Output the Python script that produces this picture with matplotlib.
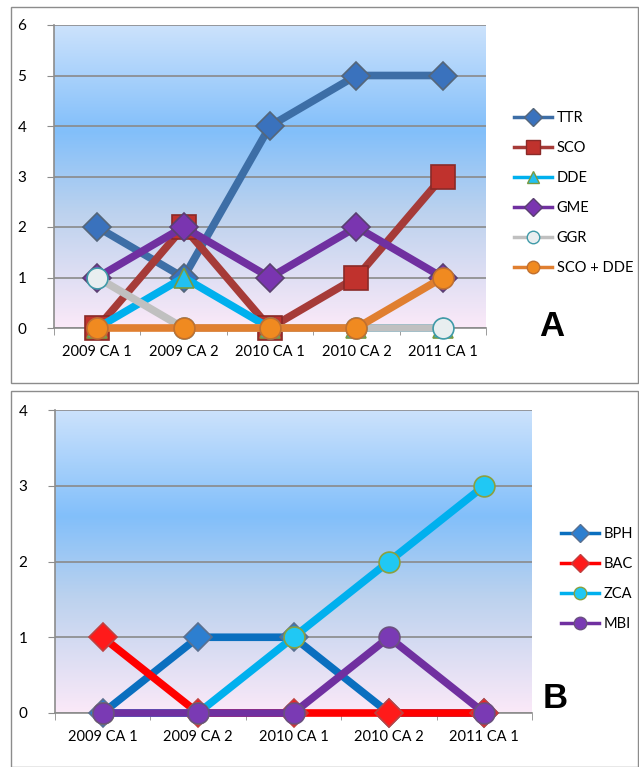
import numpy as np
import matplotlib
matplotlib.use("Agg")
import matplotlib.pyplot as plt
from matplotlib.colors import LinearSegmentedColormap
from matplotlib.lines import Line2D
from matplotlib.patches import Rectangle

plt.rcParams['font.family'] = ['Lato', 'DejaVu Sans']

categories = ["2009 CA 1", "2009 CA 2", "2010 CA 1", "2010 CA 2", "2011 CA 1"]

# panel A series
a_names = ["TTR", "SCO", "DDE", "GME", "GGR", "SCO + DDE"]
ttr = [2, 1, 4, 5, 5]
sco = [0, 2, 0, 1, 3]
dde = [0, 1, 0, 0, 0]
gme = [1, 2, 1, 2, 1]
ggr = [1, 0, 0, 0, 0]
sco_dde = [0, 0, 0, 0, 1]

# panel B series
b_names = ["BPH", "BAC", "ZCA", "MBI"]
bph = [0, 1, 1, 0, 0]
bac = [1, 0, 0, 0, 0]
zca = [0, 0, 1, 2, 3]
mbi = [0, 0, 0, 1, 0]

W, H = 639, 767
fig = plt.figure(figsize=(W / 100, H / 100), dpi=100)

# grey frames around each chart
fig.patches.append(Rectangle((11 / W, 1 - 383 / H), 627 / W, 376 / H, transform=fig.transFigure,
                             fill=False, edgecolor="#8c8c8c", lw=1.0))
fig.patches.append(Rectangle((11 / W, 1 - 767 / H), 627 / W, 376 / H, transform=fig.transFigure,
                             fill=False, edgecolor="#8c8c8c", lw=1.0))

bg = LinearSegmentedColormap.from_list("bg", [
    (0.0, "#cce2fc"), (0.35, "#82bffa"), (0.62, "#bcd2ee"), (1.0, "#fbe9f8")])


def make_axes(left, top, right, bottom, ymax):
    ax = fig.add_axes([left / W, 1 - bottom / H, (right - left) / W, (bottom - top) / H])
    # row 0 of the gradient sits at the top of the plot area
    ax.imshow(np.linspace(0, 1, 256).reshape(-1, 1), cmap=bg, aspect="auto",
              extent=(-0.5, 4.5, 0, ymax), origin="upper", zorder=0)
    ax.set_xlim(-0.5, 4.5)
    ax.set_ylim(0, ymax)
    ax.set_yticks(range(ymax + 1))
    ax.set_xticks(range(5))
    ax.set_xticklabels(categories)
    ax.set_xticks(np.arange(-0.5, 5, 1), minor=True)
    ax.tick_params(axis="x", which="major", length=0, pad=12, labelsize=10.5)
    ax.tick_params(axis="x", which="minor", length=5, color="#8c8c8c")
    ax.tick_params(axis="y", length=5, color="#8c8c8c", labelsize=11, pad=15)
    ax.grid(axis="y", color="#8a8a8a", lw=1.2, zorder=1)
    for side in ["top", "right"]:
        ax.spines[side].set_visible(False)
    for side in ["left", "bottom"]:
        ax.spines[side].set_color("#8c8c8c")
        ax.spines[side].set_linewidth(1.2)
    return ax


x = np.arange(5)

# ---- panel A ----
axA = make_axes(54, 25, 486, 328, 6)
a_styles = [
    (ttr, "#3d6ea6", "D", "#3a72bd", "#55667a", 14),
    (sco, "#a63b38", "s", "#c0322d", "#8a2a28", 17),
    (dde, "#00b0ee", "^", "#22c0f0", "#7a9a40", 15),
    (gme, "#7030a0", "D", "#7a35b0", "#5a4070", 14),
    (ggr, "#c0c0c0", "o", "#e8eef0", "#3f9aa8", 15),
    (sco_dde, "#e07f30", "o", "#f08a20", "#c07030", 15),
]
handles = []
for (vals, lc, mk, mfc, mec, ms), name in zip(a_styles, a_names):
    axA.plot(x, vals, color=lc, lw=5.5, marker=mk, ms=ms, mfc=mfc, mec=mec, mew=1.2,
             zorder=3, clip_on=False, solid_capstyle="round")
    handles.append(Line2D([], [], color=lc, lw=2.5, marker=mk, ms=9 if mk != "s" else 10,
                          mfc=mfc, mec=mec, label=name))
fig.legend(handles=handles, loc="upper left", bbox_to_anchor=(507 / W, 1 - 104 / H),
           frameon=False, fontsize=10.5, handlelength=2.6, labelspacing=1.1,
           handletextpad=0.3, borderpad=0)
fig.text(552 / W, 1 - 326 / H, "A", fontsize=25, fontweight="bold", family="Liberation Sans",
         ha="center", va="center")

# ---- panel B ----
axB = make_axes(55, 410, 532, 713, 4)
b_styles = [
    (bph, "#0a6fbf", "D", "#2d7fd0", "#5a7090", 14),
    (bac, "#ff0000", "D", "#ff1a1a", "#c04040", 14),
    (zca, "#00b0ee", "o", "#20c8f4", "#8aa040", 15),
    (mbi, "#7030a0", "o", "#7a3ab4", "#6a5080", 15),
]
handles = []
for (vals, lc, mk, mfc, mec, ms), name in zip(b_styles, b_names):
    axB.plot(x, vals, color=lc, lw=5.5, marker=mk, ms=ms, mfc=mfc, mec=mec, mew=1.2,
             zorder=3, clip_on=False, solid_capstyle="round")
    handles.append(Line2D([], [], color=lc, lw=2.5, marker=mk, ms=9,
                          mfc=mfc, mec=mec, label=name))
fig.legend(handles=handles, loc="upper left", bbox_to_anchor=(554 / W, 1 - 520 / H),
           frameon=False, fontsize=10.5, handlelength=2.6, labelspacing=1.1,
           handletextpad=0.3, borderpad=0)
fig.text(555 / W, 1 - 698 / H, "B", fontsize=25, fontweight="bold", family="Liberation Sans",
         ha="center", va="center")

fig.savefig("out.png", dpi=100)
